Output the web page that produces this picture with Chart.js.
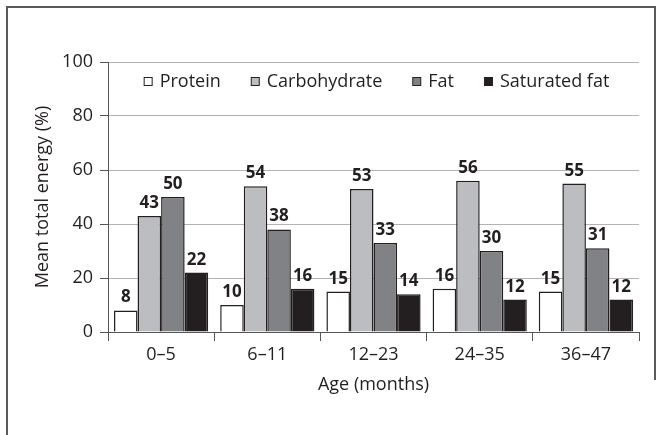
<!DOCTYPE html>
<html>
<head>
<meta charset="utf-8">
<script src="https://cdn.jsdelivr.net/npm/chart.js@4/dist/chart.umd.min.js"></script>
<style>
  html, body { margin: 0; padding: 0; background: #fff; }
  #wrap { width: 664px; height: 435px; position: relative; }
</style>
</head>
<body>
<div id="wrap"><canvas id="c" width="664" height="435"></canvas></div>
<script>
const categories = ['0\u20135', '6\u201311', '12\u201323', '24\u201335', '36\u201347'];
const seriesNames = ['Protein', 'Carbohydrate', 'Fat', 'Saturated fat'];
const protein = [8, 10, 15, 16, 15];
const carbohydrate = [43, 54, 53, 56, 55];
const fat = [50, 38, 33, 30, 31];
const saturatedFat = [22, 16, 14, 12, 12];
const yTicks = [0, 20, 40, 60, 80, 100];
const xTitle = 'Age (months)';
const yTitle = 'Mean total energy (%)';

const FONT = "'Open Sans', 'Noto Sans', sans-serif";
const TEXT = '#231f20';
const colors = ['#ffffff', '#bcbdc0', '#808285', '#231f20'];
const seriesValues = [protein, carbohydrate, fat, saturatedFat];

const framePlugin = {
  id: 'frame',
  beforeDraw(chart) {
    const ctx = chart.ctx;
    ctx.save();
    ctx.fillStyle = '#fff';
    ctx.fillRect(0, 0, chart.width, chart.height);
    ctx.strokeStyle = '#5a5a5a';
    ctx.lineWidth = 2;
    ctx.beginPath();
    ctx.moveTo(7, 440);
    ctx.lineTo(7, 7);
    ctx.lineTo(655, 7);
    ctx.lineTo(655, 380);
    ctx.stroke();
    ctx.restore();
  }
};

const valueLabels = {
  id: 'valueLabels',
  afterDatasetsDraw(chart) {
    const ctx = chart.ctx;
    ctx.save();
    ctx.font = "bold 17px " + FONT;
    ctx.fillStyle = TEXT;
    ctx.textAlign = 'center';
    ctx.textBaseline = 'alphabetic';
    chart.data.datasets.forEach((ds, i) => {
      const meta = chart.getDatasetMeta(i);
      meta.data.forEach((bar, j) => {
        ctx.fillText(String(ds.data[j]), bar.x, bar.y - 8);
      });
    });
    ctx.restore();
  }
};

const innerLegend = {
  id: 'innerLegend',
  afterDraw(chart) {
    const ctx = chart.ctx;
    const area = chart.chartArea;
    ctx.save();
    ctx.font = "18px " + FONT;
    const box = 8, gap = 8, spacing = 30;
    const items = chart.data.datasets.map(ds => ({
      text: ds.label, fill: ds.backgroundColor, w: box + gap + ctx.measureText(ds.label).width
    }));
    const total = items.reduce((s, it) => s + it.w, 0) + spacing * (items.length - 1);
    let x = (area.left + area.right) / 2 + 3 - total / 2;
    const cy = area.top + 19;
    ctx.textBaseline = 'middle';
    ctx.textAlign = 'left';
    items.forEach(it => {
      ctx.fillStyle = it.fill;
      ctx.fillRect(x + 0.5, cy - box / 2 + 0.5, box, box);
      ctx.strokeStyle = '#231f20';
      ctx.lineWidth = 1;
      ctx.strokeRect(x + 0.5, cy - box / 2 + 0.5, box, box);
      ctx.fillStyle = TEXT;
      ctx.fillText(it.text, x + box + gap, cy + 1);
      x += it.w + spacing;
    });
    ctx.restore();
  }
};

const datasets = seriesNames.map((name, i) => ({
  label: name,
  data: seriesValues[i],
  backgroundColor: colors[i],
  borderColor: '#231f20',
  borderWidth: 1.5,
  categoryPercentage: 0.887,
  barPercentage: 1.0
}));

new Chart(document.getElementById('c'), {
  type: 'bar',
  data: { labels: categories, datasets },
  options: {
    responsive: false,
    animation: false,
    devicePixelRatio: 1,
    layout: { padding: { left: 32, right: 25, top: 62, bottom: 0 } },
    plugins: {
      legend: { display: false },
      tooltip: { enabled: false }
    },
    scales: {
      x: {
        grid: {
          offset: true,
          drawOnChartArea: false,
          drawTicks: true,
          tickLength: 9,
          tickColor: '#555',
          lineWidth: 1
        },
        border: { color: '#555', width: 1 },
        ticks: { color: TEXT, font: { family: FONT, size: 18 }, padding: 3 },
        title: {
          display: true, text: xTitle, color: TEXT,
          font: { family: FONT, size: 18 }, padding: { top: 0, bottom: 39 }
        },
        afterFit(scale) { scale.height = 103; }
      },
      y: {
        min: 0, max: 100,
        afterBuildTicks(scale) { scale.ticks = yTicks.map(v => ({ value: v })); },
        grid: {
          color: '#b3b3b3',
          lineWidth: 1,
          drawTicks: true,
          tickLength: 8,
          tickColor: '#555'
        },
        border: { color: '#555', width: 1 },
        ticks: { color: TEXT, font: { family: FONT, size: 18 }, padding: 7 },
        title: {
          display: true, text: yTitle, color: TEXT,
          font: { family: FONT, size: 18 }, padding: { top: 0, bottom: 0 }
        },
        afterFit(scale) { scale.width = 108 - 32; }
      }
    }
  },
  plugins: [framePlugin, valueLabels, innerLegend]
});
</script>
</body>
</html>
